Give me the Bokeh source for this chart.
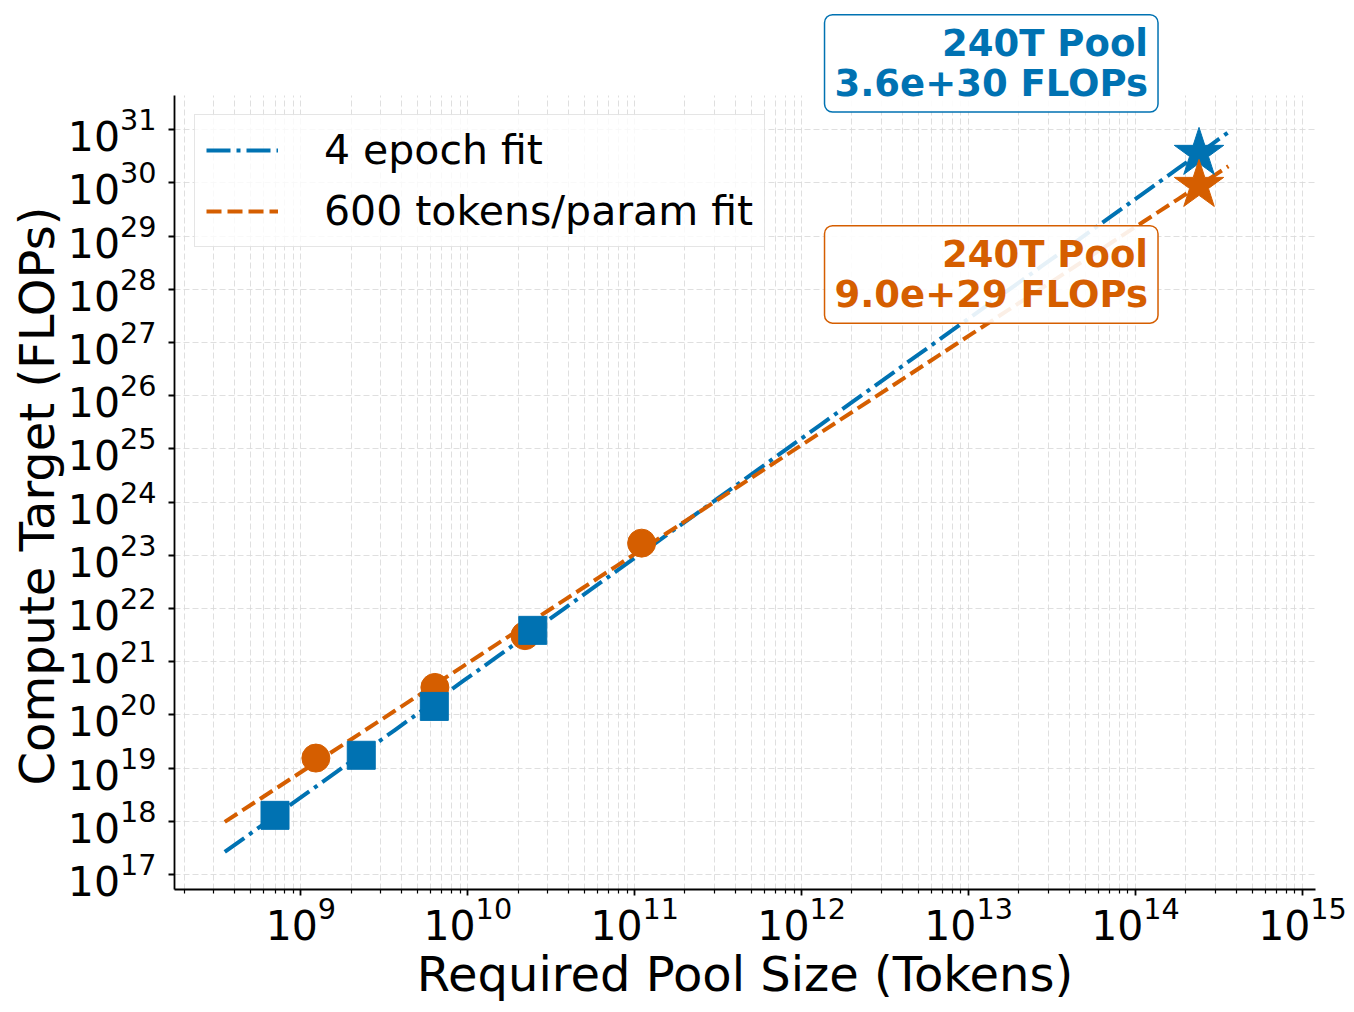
import numpy as np
from bokeh.plotting import figure
from bokeh.models import Range1d, FixedTicker, Legend, LegendItem, Label, BoxAnnotation, Title
from bokeh.embed import file_html
from bokeh.resources import INLINE

BLUE = "#0072B2"
ORANGE = "#D55E00"
FONT = "DejaVu Sans"

# Compute-optimal runs: required token pool vs. compute target
pool_4ep = [7.0e8, 2.3e9, 6.3e9, 2.45e10]
flops_4ep = [1.3e18, 1.75e19, 1.45e20, 3.9e21]
pool_tpp = [1.23e9, 6.35e9, 2.2e10, 1.1e11]
flops_tpp = [1.55e19, 3.3e20, 3.1e21, 1.7e23]

# Extrapolation target
target_pool = 2.4e14
target_flops_4ep = 3.6e30
target_flops_tpp = 9.0e29

# Power-law fits: C = C_target * (D / D_target) ** slope
slope_4ep = 2.25
slope_tpp = 2.05
fit_pool_range = [3.5e8, 3.6e14]

fit_x = np.logspace(np.log10(fit_pool_range[0]), np.log10(fit_pool_range[1]), 60)
fit_4ep = target_flops_4ep * (fit_x / target_pool) ** slope_4ep
fit_tpp = target_flops_tpp * (fit_x / target_pool) ** slope_tpp

# Axis extents (the plotting area continues above y_top so the callouts are not cut)
x_lo, x_hi = 10 ** 8.243, 10 ** 15.078
y_lo, y_top = 10 ** 16.72, 10 ** 31.645
y_canvas_top = 10 ** 33.43

p = figure(
    width=1354, height=1012,
    x_axis_type="log", y_axis_type="log",
    x_range=Range1d(x_lo, x_hi),
    y_range=Range1d(y_lo, y_canvas_top),
    output_backend="svg", toolbar_location=None,
    min_border_left=174, min_border_right=39,
    min_border_top=0, min_border_bottom=123,
)
p.outline_line_color = None
p.background_fill_color = "white"
p.border_fill_color = "white"

# Ticks: decades on both axes, 2..9 minor ticks on x only
p.xaxis.ticker = FixedTicker(
    ticks=[10.0 ** k for k in range(9, 16)],
    minor_ticks=[m * 10.0 ** k for k in range(8, 16) for m in range(2, 10)],
)
p.yaxis.ticker = FixedTicker(ticks=[10.0 ** k for k in range(17, 32)], minor_ticks=[])
p.yaxis.bounds = (y_lo, y_top)

for ax in (p.xaxis, p.yaxis):
    ax.axis_line_color = "black"
    ax.axis_line_width = 1.8
    ax.major_tick_line_color = "black"
    ax.major_tick_line_width = 1.8
    ax.major_tick_out = 6
    ax.major_tick_in = 0
    ax.minor_tick_line_color = "black"
    ax.minor_tick_line_width = 1.2
    ax.minor_tick_out = 4
    ax.minor_tick_in = 0
    ax.major_label_text_font = FONT
    ax.major_label_text_font_size = "41px"
    ax.major_label_text_color = "black"
    ax.axis_label_text_font = FONT
    ax.axis_label_text_font_size = "48px"
    ax.axis_label_text_font_style = "normal"
    ax.axis_label_text_color = "black"
    ax.axis_label_text_line_height = 1.0

p.xaxis.major_label_standoff = 1
p.yaxis.major_label_standoff = 12
p.xaxis.axis_label = "Required Pool Size (Tokens)"
p.xaxis.axis_label_standoff = 3

# y-axis title, centred on the visible extent of the y axis
p.add_layout(Title(
    text="Compute Target (FLOPs)", align="left", offset=104,
    text_font=FONT, text_font_size="48px", text_font_style="normal",
    text_color="black", standoff=0,
), "left")

for g in (p.xgrid, p.ygrid):
    g.grid_line_color = "#d9d9d9"
    g.grid_line_dash = "6 3"
    g.grid_line_width = 1
    g.grid_line_alpha = 0.85
p.xgrid.minor_grid_line_color = "#d9d9d9"
p.xgrid.minor_grid_line_dash = "6 3"
p.xgrid.minor_grid_line_width = 1
p.xgrid.minor_grid_line_alpha = 0.85

# Blank out the grid above the top of the y axis
p.add_layout(BoxAnnotation(bottom=y_top, fill_color="white", fill_alpha=1.0,
                           line_color=None, level="underlay"))

# Fit lines
line_4ep = p.line(fit_x, fit_4ep, line_color=BLUE, line_width=4, line_dash="24 6 4 6")
line_tpp = p.line(fit_x, fit_tpp, line_color=ORANGE, line_width=4, line_dash="15 6")

# Observed points
p.scatter(pool_tpp, flops_tpp, marker="circle", size=28, fill_color=ORANGE, line_color=ORANGE)
p.scatter(pool_4ep, flops_4ep, marker="square", size=28, fill_color=BLUE, line_color=BLUE)

# Extrapolated targets
p.scatter([target_pool], [target_flops_4ep], marker="star", size=52, fill_color=BLUE, line_color=BLUE)
p.scatter([target_pool], [target_flops_tpp], marker="star", size=52, fill_color=ORANGE, line_color=ORANGE)

pool_tag = f"{target_pool / 1e12:.0f}T Pool"
for val, col, dy in ((target_flops_4ep, BLUE, 90), (target_flops_tpp, ORANGE, -89)):
    p.add_layout(Label(
        x=target_pool, y=val, x_offset=-41, y_offset=dy,
        text=f"{pool_tag}\n{val:.1e} FLOPs",
        text_align="right", text_baseline="middle",
        text_font=FONT, text_font_style="bold", text_font_size="37px",
        text_line_height=0.94,
        text_color=col,
        background_fill_color="white", background_fill_alpha=0.9,
        border_line_color=col, border_line_width=1.5,
        border_radius=8, padding=(10, 7),
    ))

legend = Legend(
    items=[
        LegendItem(label="4 epoch fit", renderers=[line_4ep]),
        LegendItem(label="600 tokens/param fit", renderers=[line_tpp]),
    ],
    location=(20, 642),
    label_text_font=FONT, label_text_font_size="41px", label_text_color="black",
    glyph_width=72, glyph_height=40, label_height=40,
    padding=11, spacing=13, label_standoff=46, margin=0,
    border_line_color="#cccccc", border_line_width=1.5,
    background_fill_color="white", background_fill_alpha=0.8,
)
p.add_layout(legend)

open("out.html", "w").write(file_html(p, INLINE))
